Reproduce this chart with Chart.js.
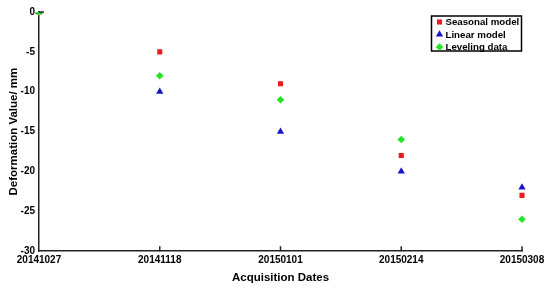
<!DOCTYPE html>
<html>
<head>
<meta charset="utf-8">
<script src="https://cdn.jsdelivr.net/npm/chart.js@4/dist/chart.umd.min.js"></script>
<style>
  html, body { margin: 0; padding: 0; background: #fff; }
</style>
</head>
<body>
<canvas id="myChart" width="550" height="290"></canvas>
<script>
const dates = ['20141027', '20141118', '20150101', '20150214', '20150308'];
const seasonal = [0, -5, -9, -18, -23];
const linear = [0, -10, -15, -20, -22];
const leveling = [0, -8, -11, -16, -26];

const fam = '"Liberation Sans", Arial, sans-serif';
const font = { family: fam, weight: 'bold', size: 10 };

// boxed legend in the top right corner, like the matlab one
const boxLegend = {
    id: 'boxLegend',
    afterDraw(chart) {
        const ctx = chart.ctx, area = chart.chartArea;
        const right = area.right - 0.5, top = area.top + 4;
        const w = 90, h = 35;
        const left = right - w;
        ctx.save();
        ctx.fillStyle = '#fff';
        ctx.fillRect(left, top, w, h);
        ctx.strokeStyle = '#000';
        ctx.lineWidth = 1.5;
        ctx.strokeRect(left, top, w, h);
        ctx.font = 'bold 9.7px ' + fam;
        ctx.textBaseline = 'middle';
        chart.data.datasets.forEach((ds, i) => {
            const y = top + 6 + i * 12.5;
            ctx.fillStyle = ds.backgroundColor;
            ctx.strokeStyle = ds.backgroundColor;
            Chart.helpers.drawPoint(ctx, { pointStyle: ds.pointStyle, radius: ds.pointRadius, borderWidth: 0 }, left + 8, y);
            ctx.fillStyle = '#000';
            ctx.fillText(ds.label, left + 14, y + 0.5);
        });
        ctx.restore();
    }
};

// short inward tick marks on the axes
const innerTicks = {
    id: 'innerTicks',
    afterDraw(chart) {
        const ctx = chart.ctx, xs = chart.scales.x, area = chart.chartArea;
        ctx.save();
        ctx.strokeStyle = '#222';
        ctx.lineWidth = 1.5;
        dates.forEach((d, i) => {
            if (i === 0) return;
            const px = xs.getPixelForValue(i);
            ctx.beginPath();
            ctx.moveTo(px, area.bottom);
            ctx.lineTo(px, area.bottom - 5);
            ctx.stroke();
        });
        ctx.beginPath();
        ctx.moveTo(area.left, area.top);
        ctx.lineTo(area.left + 5, area.top);
        ctx.stroke();
        ctx.restore();
    }
};

new Chart(document.getElementById('myChart'), {
    type: 'line',
    data: {
        labels: dates,
        datasets: [
            {
                label: 'Seasonal model',
                data: seasonal,
                showLine: false,
                pointStyle: 'rect',
                pointRadius: 3.6,
                backgroundColor: '#ea1a1e',
                borderColor: '#ea1a1e',
                borderWidth: 0,
                order: 2,
            },
            {
                label: 'Linear model',
                data: linear,
                showLine: false,
                pointStyle: 'triangle',
                pointRadius: 4.2,
                backgroundColor: '#1616c6',
                borderColor: '#1616c6',
                borderWidth: 0,
                order: 1,
            },
            {
                label: 'Leveling data',
                data: leveling,
                showLine: false,
                pointStyle: 'rectRot',
                pointRadius: 3.8,
                backgroundColor: '#22e622',
                borderColor: '#22e622',
                borderWidth: 0,
                order: 0,
            },
        ]
    },
    options: {
        responsive: false,
        animation: false,
        layout: { padding: { top: 12, right: 28, left: 0, bottom: 4 } },
        plugins: {
            tooltip: { enabled: false },
            legend: { display: false },
        },
        scales: {
            x: {
                offset: false,
                grid: { display: true, drawOnChartArea: false, drawTicks: false, tickLength: 0 },
                border: { color: '#222', width: 1.5 },
                ticks: { color: '#000', font: font, maxRotation: 0, autoSkip: false, padding: 3 },
                title: {
                    display: true,
                    text: 'Acquisition Dates',
                    color: '#000',
                    font: { family: fam, weight: 'bold', size: 11.5 },
                    padding: { top: 2, bottom: 1 },
                },
            },
            y: {
                min: -30,
                max: 0,
                grid: { display: false, drawTicks: false, tickLength: 0 },
                border: { color: '#222', width: 1.5 },
                ticks: { stepSize: 5, color: '#000', font: font, padding: 4 },
                title: {
                    display: true,
                    text: 'Deformation Value/ mm',
                    color: '#000',
                    font: { family: fam, weight: 'bold', size: 11.5 },
                    padding: { top: 7, bottom: 0 },
                },
                afterFit(scale) { scale.width = 39; },
            },
        },
    },
    plugins: [boxLegend, innerTicks],
});
</script>
</body>
</html>
